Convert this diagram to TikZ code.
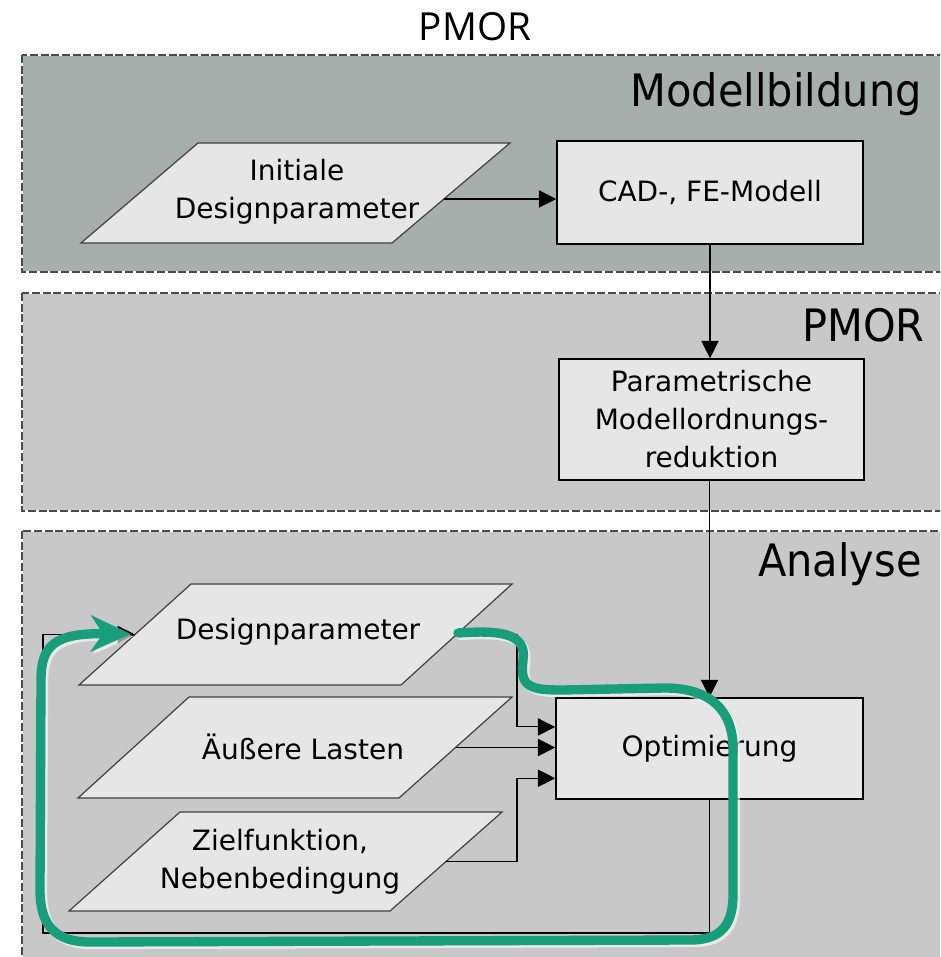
\documentclass[tikz,border=0pt]{standalone}
\usepackage{fontspec}
\setmainfont{DejaVu Sans}
\newfontfamily\titlefont{Open Sans}
\newfontfamily\labelfont[FakeStretch=0.93]{DejaVu Sans}
\usetikzlibrary{arrows.meta,calc}
\definecolor{panelA}{HTML}{A7AFAD}
\definecolor{panelB}{HTML}{C8C8C8}
\definecolor{boxfill}{HTML}{E6E6E6}
\definecolor{loopgreen}{HTML}{189E7A}
\definecolor{dashgray}{HTML}{4A4A4A}
\newcommand\parashape[7]{%
  \coordinate (#1-tl) at (#2,#6);
  \coordinate (#1-tr) at (#3,#6);
  \coordinate (#1-bl) at (#4,#7);
  \coordinate (#1-br) at (#5,#7);
  \draw[parabox] (#1-bl) -- (#1-tl) -- (#1-tr) -- (#1-br) -- cycle;
  \coordinate (#1-e) at ($(#1-tr)!0.5!(#1-br)$);
  \coordinate (#1-w) at ($(#1-tl)!0.5!(#1-bl)$);
}
\begin{document}
\begin{tikzpicture}[x=0.75pt,y=-0.75pt,
  paneldash/.style={draw=dashgray, line width=0.9pt, dash pattern=on 6pt off 2pt},
  lbl/.style={anchor=base east, inner sep=0pt, font=\labelfont\fontsize{33.5}{33.5}\selectfont},
  txt/.style={align=center, inner sep=0pt, font=\fontsize{21}{28.5}\selectfont},
  procbox/.style={draw=black, line width=1.2pt, fill=boxfill, inner sep=0pt, align=center, font=\fontsize{21}{28.5}\selectfont},
  parabox/.style={draw=black!75, line width=0.9pt, fill=boxfill},
  conn/.style={draw=black, line width=0.8pt},
  tip/.style={-{Triangle[length=13pt,width=13pt]}},
  loop/.style={draw=loopgreen, line width=7pt, line cap=round, -{Stealth[length=30pt,width=27pt,inset=9pt]}},
  halo/.style={draw=white, opacity=0.6, line width=7pt, line cap=round, -{Stealth[length=30pt,width=27pt,inset=9pt]}}
]
\useasboundingbox (0,0) rectangle (940,957);
\clip (0,0) rectangle (940,957);
\fill[white] (0,0) rectangle (940,957);

% panels
\foreach \yt/\yb/\col in {55/272/panelA, 293/511/panelB, 531/990/panelB}{
  \fill[\col] (22,\yt) rectangle (965,\yb);
  \draw[white, line width=0.9pt] (22,\yt) rectangle (965,\yb);
  \draw[paneldash] (22,\yt) rectangle (965,\yb);
}

% title and labels
\node[anchor=base, inner sep=0pt, font=\titlefont\fontsize{29}{29}\selectfont] (title) at (475,40) {PMOR};
\node[lbl] (lab1) at (922,106) {Modellbildung};
\node[lbl] (lab2) at (925,341) {PMOR};
\node[lbl] (lab3) at (922,576) {Analyse};

% process boxes
\node[procbox, minimum width=229.5pt, minimum height=77.25pt] (cad) at (710,192.5) {CAD-, FE-Modell};
\node[procbox, minimum width=228.75pt, minimum height=90.75pt] (pmor) at (711.5,419.5) {Parametrische\\Modellordnungs-\\reduktion};
\node[procbox, minimum width=230.25pt, minimum height=75.75pt] (opt) at (709.5,748.5) {Optimierung};

% parallelograms
\parashape{ini}{198}{510}{81}{392}{143}{243}
\parashape{dp}{191}{512}{79}{401}{584}{685}
\parashape{al}{189}{512}{78}{399}{697}{798}
\parashape{zf}{180}{502}{69}{390}{812}{911}

\node[txt] (initxt) at (297,192) {Initiale\\Designparameter};
\node[txt] (dptxt) at (298,632) {Designparameter};
\node[txt] (altxt) at (303,747) {Äußere Lasten};
\node[txt] (zftxt) at (280,862) {Zielfunktion,\\Nebenbedingung};

% helper coordinates
\coordinate (ini-out) at ($(ini-tr)!0.56!(ini-br)$);
\coordinate (bus) at (517,0);
\coordinate (opt-in1) at ($(opt.north west)!0.29!(opt.south west)$);
\coordinate (opt-in3) at ($(opt.north west)!0.79!(opt.south west)$);
\coordinate (fb-bl) at (43,933);

% connectors
\draw[conn, tip] (ini-out) -- (ini-out -| cad.west);
\draw[conn, tip] (cad.south) -- (cad.south |- pmor.north);
\draw[conn, tip] (pmor.south -| opt.north) -- (opt.north);
\draw[conn, tip] (dp-e) -| (bus |- opt-in1) -- (opt-in1);
\draw[conn, tip] (al-e) -- (al-e -| opt.west);
\draw[conn, tip] (zf-e) -| (bus |- opt-in3) -- (opt-in3);
\draw[conn, tip] (opt.south) -- (opt.south |- fb-bl) -- (fb-bl) |- (dp-w);

% green loop annotation
\foreach \st/\sh in {halo/{(2.5,2.5)}, loop/{(0,0)}}{
\draw[\st, shift=\sh] (458,633)
  .. controls (500,630) and (527,633) .. (523,660)
  .. controls (519,688) and (532,690) .. (562,690)
  -- (665,688)
  .. controls (712,688) and (733,712) .. (733,748)
  -- (733,895)
  .. controls (733,930) and (716,940) .. (690,940)
  -- (90,942)
  .. controls (55,942) and (40,925) .. (40,890)
  -- (41,680)
  .. controls (41,645) and (55,633) .. (131,634);
}
\end{tikzpicture}
\end{document}
